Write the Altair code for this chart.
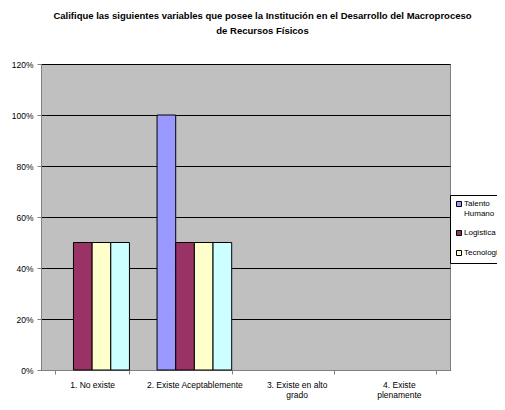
import altair as alt
import pandas as pd

categories = ["1. No existe", "2. Existe Aceptablemente", "3. Existe en alto grado", "4. Existe plenamente"]
series = ["Talento Humano", "Logistica", "Tecnologia", "Infraestructura"]
colors = ["#9999FF", "#993366", "#FFFFCC", "#CCFFFF"]
talento = [0.0, 1.0, 0.0, 0.0]
logistica = [0.5, 0.5, 0.0, 0.0]
tecnologia = [0.5, 0.5, 0.0, 0.0]
infraestructura = [0.5, 0.5, 0.0, 0.0]
y_ticks = [0, 0.2, 0.4, 0.6, 0.8, 1.0, 1.2]

values = [talento, logistica, tecnologia, infraestructura]
rows = []
for s, vals in zip(series, values):
    for c, v in zip(categories, vals):
        rows.append({"categoria": c, "serie": s, "valor": v})
df = pd.DataFrame(rows)

FONT = "Liberation Sans, Arial"

x_label_expr = (
    "datum.value == '3. Existe en alto grado' ? ['3. Existe en alto', 'grado'] : "
    "datum.value == '4. Existe plenamente' ? ['4. Existe', 'plenamente'] : datum.value"
)
legend_label_expr = "datum.label == 'Talento Humano' ? ['Talento', 'Humano'] : datum.label"

chart = alt.Chart(df).transform_filter("datum.valor > 0").mark_bar(stroke="black", strokeWidth=1).encode(
    x=alt.X(
        "categoria:N",
        sort=categories,
        scale=alt.Scale(domain=categories, paddingInner=0.27, paddingOuter=0.135),
        axis=alt.Axis(
            title=None, labelAngle=0, labelExpr=x_label_expr, tickBand="extent",
            labelFont=FONT, labelFontSize=8.5, labelColor="black", labelLineHeight=10,
            labelPadding=6, tickSize=4, tickColor="#808080", domainColor="#808080",
            labelBaseline="top",
        ),
    ),
    xOffset=alt.XOffset("serie:N", sort=series,
                        scale=alt.Scale(domain=series, paddingInner=0, paddingOuter=0)),
    y=alt.Y(
        "valor:Q",
        scale=alt.Scale(domain=[0, 1.2]),
        axis=alt.Axis(
            title=None, format="%", values=y_ticks, labelFont=FONT, labelFontSize=8.5,
            labelColor="black", tickSize=4, tickColor="#808080", domainColor="#808080",
            gridColor="black", gridWidth=1, labelPadding=4,
        ),
    ),
    color=alt.Color(
        "serie:N",
        sort=series,
        scale=alt.Scale(domain=series, range=colors),
        legend=alt.Legend(
            title=None, orient="none", legendX=409, legendY=131, values=series[:3],
            symbolType="square", symbolSize=25, symbolStrokeColor="black", symbolStrokeWidth=1,
            labelFont=FONT, labelFontSize=8, labelColor="black", labelExpr=legend_label_expr,
            padding=5, strokeColor="black", fillColor="white", rowPadding=10, labelOffset=1,
            symbolOffset=0,
        ),
    ),
).properties(
    width=409,
    height=306,
    title=alt.Title(
        ["Califique las siguientes variables que posee la Institución en el Desarrollo del Macroproceso",
         "de Recursos Físicos"],
        font=FONT, fontSize=9.5, fontWeight="bold", color="black", lineHeight=15,
        anchor="middle", frame="group", dx=17, offset=25,
    ),
    autosize=alt.AutoSizeParams(type="none"),
    padding={"left": 33, "top": 56, "right": 47, "bottom": 32},
).configure_view(fill="#C0C0C0", stroke="#808080")

chart.save("out.html", embed_options={"renderer": "svg", "actions": False})
